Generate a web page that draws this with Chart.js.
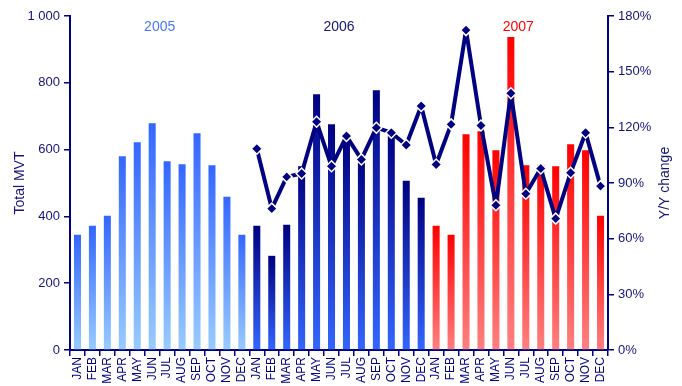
<!DOCTYPE html>
<html>
<head>
<meta charset="utf-8">
<script src="https://cdn.jsdelivr.net/npm/chart.js@4.4.0/dist/chart.umd.min.js"></script>
<style>
  html, body { margin: 0; padding: 0; background: #fff; overflow: hidden; width: 682px; height: 386px; }
  #wrap { position: relative; width: 682px; height: 400px; }
</style>
</head>
<body>
<div id="wrap"><canvas id="myChart"></canvas></div>
<script>
// Months, three years in a row
const monthNames = ["JAN", "FEB", "MAR", "APR", "MAY", "JUN", "JUL", "AUG", "SEP", "OCT", "NOV", "DEC"]
const years = ["2005", "2006", "2007"]
const labels = years.flatMap(() => monthNames)

// Total MVT per month
const mvt2005 = [345, 372, 402, 580, 622, 679, 565, 556, 649, 553, 459, 345]
const mvt2006 = [372, 282, 375, 550, 766, 676, 635, 575, 778, 645, 507, 456]
const mvt2007 = [372, 345, 646, 655, 598, 937, 553, 555, 550, 616, 598, 402]
const mvt = mvt2005.concat(mvt2006, mvt2007)

// Y/Y change in %, no values for 2005
const yoy2006 = [108.5, 76.2, 93.3, 95.1, 123, 99, 115.3, 102.7, 119.8, 117.1, 110.5, 131.5]
const yoy2007 = [100, 121.6, 172.4, 121, 78, 138.4, 84.2, 97.8, 70.8, 95.5, 117.1, 88.3]
const yoy = Array(12).fill(null).concat(yoy2006, yoy2007)

const navy = "#000080"
const textNavy = "#14147a"
// bottom / top colour of the bars for each year
const barColors = [
    ["#99ccff", "#3366ff"],
    ["#3366ff", "#000080"],
    ["#ff8080", "#ff0000"]
]
const yearColors = ["#4477ff", "#14147a", "#ff0000"]

function barFill(c) {
    const year = Math.floor(c.dataIndex / 12)
    const cols = barColors[year]
    const chart = c.chart
    if (!chart.chartArea || !chart.scales.y) return cols[1]
    const y = chart.scales.y
    const bottom = y.getPixelForValue(0)
    const top = y.getPixelForValue(mvt[c.dataIndex])
    const g = chart.ctx.createLinearGradient(0, bottom, 0, top)
    g.addColorStop(0, cols[0])
    g.addColorStop(1, cols[1])
    return g
}

// year captions above the bars + right axis title (reads bottom to top)
const extraText = {
    id: "extraText",
    afterDraw(chart) {
        const ctx = chart.ctx
        const x = chart.scales.x
        const area = chart.chartArea
        ctx.save()
        ctx.font = "14px 'Liberation Sans', Arial, sans-serif"
        ctx.textAlign = "center"
        ctx.textBaseline = "middle"
        years.forEach((yr, i) => {
            const px = (x.getPixelForValue(i * 12 + 5) + x.getPixelForValue(i * 12 + 6)) / 2
            ctx.fillStyle = yearColors[i]
            ctx.fillText(yr, px, 27)
        })
        ctx.translate(665, (area.top + area.bottom) / 2)
        ctx.rotate(-Math.PI / 2)
        ctx.fillStyle = textNavy
        ctx.fillText("Y/Y change", 0, 0)
        ctx.restore()
    }
}

Chart.defaults.font.family = "'Liberation Sans', Arial, sans-serif"
Chart.defaults.color = navy

const ctx = document.getElementById("myChart").getContext("2d")
const chart = new Chart(ctx, {
    data: {
        labels: labels,
        datasets: [{
            type: "line",
            label: "Y/Y change",
            data: yoy,
            yAxisID: "y1",
            borderColor: navy,
            borderWidth: 4,
            borderJoinStyle: "round",
            tension: 0,
            pointStyle: "rectRot",
            pointRadius: 5.5,
            pointBackgroundColor: navy,
            pointBorderColor: "#fff",
            pointBorderWidth: 1.5,
            order: 0
        }, {
            type: "bar",
            label: "Total MVT",
            data: mvt,
            yAxisID: "y",
            backgroundColor: barFill,
            barPercentage: 0.47,
            categoryPercentage: 1,
            order: 1
        }]
    },
    options: {
        responsive: true,
        maintainAspectRatio: false,
        animation: false,
        layout: { padding: { top: 16, left: 0, right: 0, bottom: 0 } },
        plugins: { legend: { display: false }, tooltip: { enabled: false } },
        scales: {
            x: {
                offset: true,
                grid: { offset: true, drawOnChartArea: false, color: navy, tickLength: 6, lineWidth: 1.5 },
                border: { color: navy, width: 2 },
                ticks: { autoSkip: false, minRotation: 90, maxRotation: 90, padding: 1, color: navy, font: { size: 12 } },
                afterFit: s => { s.height = 50 }
            },
            y: {
                position: "left",
                min: 0, max: 1000,
                ticks: { stepSize: 200, color: textNavy, font: { size: 13 }, padding: 4,
                    callback: v => v === 1000 ? "1 000" : v },
                grid: { drawOnChartArea: false, color: navy, tickLength: 6, lineWidth: 1.5 },
                border: { color: navy, width: 2 },
                title: { display: true, text: "Total MVT", color: textNavy, font: { size: 14 }, padding: { top: 12, bottom: 0 } },
                afterFit: s => { s.width = 70 }
            },
            y1: {
                position: "right",
                min: 0, max: 180,
                ticks: { stepSize: 30, color: textNavy, font: { size: 13 }, padding: 4,
                    callback: v => v + "%" },
                grid: { drawOnChartArea: false, color: navy, tickLength: 6, lineWidth: 1.5 },
                border: { color: navy, width: 2 },
                afterFit: s => { s.width = 74 }
            }
        }
    },
    plugins: [extraText]
})
</script>
</body>
</html>
